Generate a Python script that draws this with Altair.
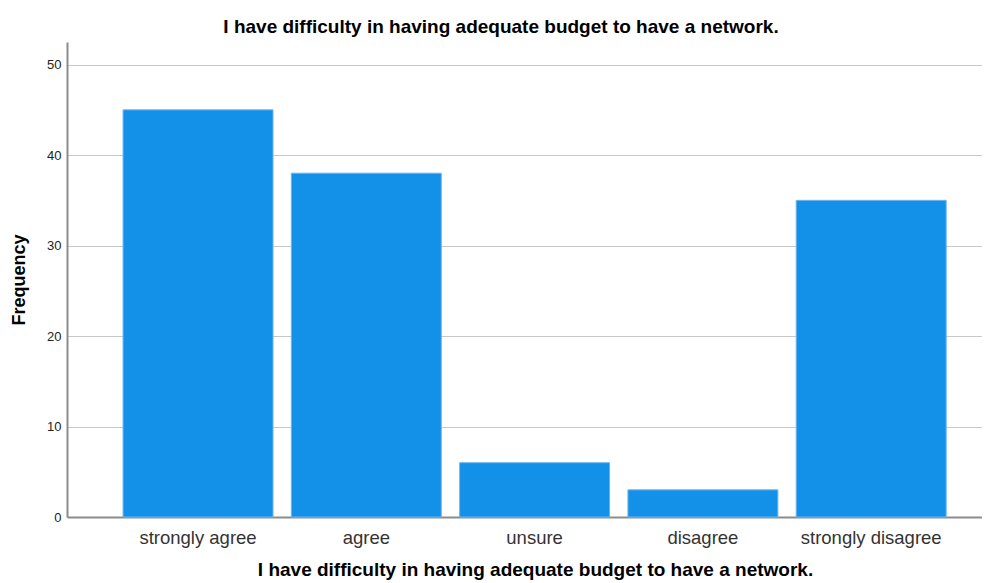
import altair as alt
import pandas as pd

categories = ["strongly agree", "agree", "unsure", "disagree", "strongly disagree"]
frequencies = [45, 38, 6, 3, 35]
y_ticks = [0, 10, 20, 30, 40, 50]

df = pd.DataFrame({"category": categories, "frequency": frequencies})

title_text = "I have difficulty in having adequate budget to have a network."
FONT = "Liberation Sans"

chart = alt.Chart(df).mark_bar(
    color="#1390E8", stroke="#6CB4F0", strokeWidth=1
).encode(
    x=alt.X(
        "category:N",
        sort=categories,
        title=title_text,
        scale=alt.Scale(paddingInner=0.109, paddingOuter=0.273, align=0.61),
        axis=alt.Axis(
            labelAngle=0, labelFontSize=18.5, labelColor="#333333", labelFont=FONT,
            labelPadding=11, ticks=False, domainColor="#8c8c8c", domainWidth=2,
            titleFontSize=19, titleFont=FONT, titleFontWeight="bold", titleColor="#000000",
            titlePadding=14, titleX=468, titleAnchor="start", titleAlign="center",
            grid=False,
        ),
    ),
    y=alt.Y(
        "frequency:Q",
        title="Frequency",
        scale=alt.Scale(domain=[0, 52.5], nice=False),
        axis=alt.Axis(
            values=y_ticks, labelFontSize=13, labelFont=FONT, labelColor="#222222",
            ticks=False, labelPadding=6, domainColor="#8c8c8c", domainWidth=2,
            gridColor="#c8c8c8", gridWidth=1,
            titleFontSize=18, titleFont=FONT, titleFontWeight="bold", titleColor="#000000",
            titlePadding=18,
        ),
    ),
).properties(
    width=915,
    height=475,
    title=alt.TitleParams(
        title_text, fontSize=19, font=FONT, fontWeight="bold", color="#000000",
        anchor="middle", dx=-23.5, offset=5,
    ),
    autosize=alt.AutoSizeParams(type="none"),
    padding={"left": 59, "top": 34, "right": 0, "bottom": 76},
).configure_view(stroke=None)

chart.save("out.html", embed_options={"renderer": "svg", "actions": False})
